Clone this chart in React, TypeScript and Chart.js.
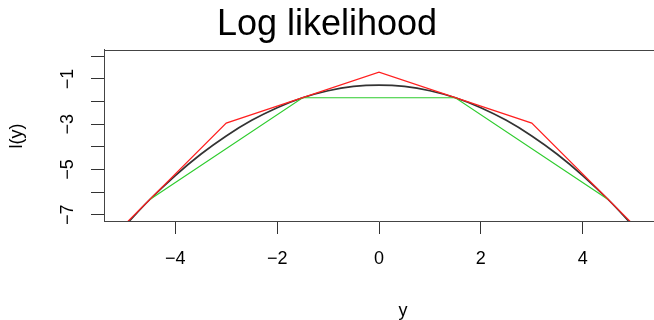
import React, { useEffect, useRef } from "react";
import { Chart, registerables } from "chart.js";

Chart.register(...registerables);

const FONT = "'Liberation Sans', Arial, Helvetica, sans-serif";

// Black curve: log-likelihood
const curveX = [-5, -4.5, -4, -3.5, -3, -2.5, -2, -1.5, -1, -0.5, 0, 0.5, 1, 1.5, 2, 2.5, 3, 3.5, 4, 4.5, 5];
const curveY = [-7.52, -6.33, -5.27, -4.33, -3.52, -2.83, -2.27, -1.83, -1.52, -1.33, -1.27, -1.33, -1.52, -1.83, -2.27, -2.83, -3.52, -4.33, -5.27, -6.33, -7.52];

// Red upper hull (tangent lines)
const upperX = [-5, -3, 0, 3, 5];
const upperY = [-7.45, -2.95, -0.7, -2.95, -7.45];

// Green lower hull (chords)
const lowerX = [-4.5, -1.5, 1.5, 4.5];
const lowerY = [-6.33, -1.83, -1.83, -6.33];

const xTickValues = [-4, -2, 0, 2, 4];
const xTickLabels = ["\u22124", "\u22122", "0", "2", "4"];
const yTickValues = [-7, -6, -5, -4, -3, -2, -1, 0];
const yTickLabels = ["\u22127", "", "\u22125", "", "\u22123", "", "\u22121", ""];

const X_MIN = -5.4;
const X_MAX = 5.4;
const Y_MIN = -7.28;
const Y_MAX = 0.28;

const toPoints = (xs: number[], ys: number[]) => xs.map((x, i) => ({ x, y: ys[i] }));

const decorPlugin = {
  id: "decor",
  afterDraw(chart: any) {
    const { ctx, chartArea } = chart;
    ctx.save();
    // top border of the box
    ctx.strokeStyle = "#444";
    ctx.lineWidth = 1;
    ctx.beginPath();
    ctx.moveTo(chartArea.left, chartArea.top + 0.5);
    ctx.lineTo(chartArea.right, chartArea.top + 0.5);
    ctx.stroke();
    // axis titles
    ctx.fillStyle = "#000";
    ctx.font = `18px ${FONT}`;
    ctx.textAlign = "center";
    ctx.textBaseline = "alphabetic";
    ctx.fillText("y", 403, 315.5);
    ctx.translate(17, 136);
    ctx.rotate(-Math.PI / 2);
    ctx.textBaseline = "middle";
    ctx.fillText("l(y)", 0, 0);
    ctx.restore();
  },
};

export default function App() {
  const canvasRef = useRef<HTMLCanvasElement | null>(null);

  useEffect(() => {
    document.body.style.margin = "0";
    const canvas = canvasRef.current;
    if (!canvas) return;
    const chart = new Chart(canvas, {
      type: "line",
      data: {
        datasets: [
          {
            data: toPoints(curveX, curveY),
            borderColor: "#333",
            borderWidth: 1.7,
            pointRadius: 0,
            tension: 0.4,
            order: 3,
          },
          {
            data: toPoints(lowerX, lowerY),
            borderColor: "#2ECC2E",
            borderWidth: 1.2,
            pointRadius: 0,
            tension: 0,
            order: 2,
          },
          {
            data: toPoints(upperX, upperY),
            borderColor: "#FF2020",
            borderWidth: 1.2,
            pointRadius: 0,
            tension: 0,
            order: 1,
          },
        ],
      },
      options: {
        animation: false,
        responsive: true,
        maintainAspectRatio: false,
        layout: { padding: 0 },
        plugins: {
          legend: { display: false },
          tooltip: { enabled: false },
          title: {
            display: true,
            text: "Log likelihood",
            color: "#000",
            font: { size: 36, family: FONT, weight: "normal", lineHeight: 1.2 },
            padding: { top: 3.4, bottom: 3.4 },
          },
        },
        scales: {
          x: {
            type: "linear",
            min: X_MIN,
            max: X_MAX,
            afterBuildTicks: (scale: any) => {
              scale.ticks = xTickValues.map((v) => ({ value: v }));
            },
            afterFit: (scale: any) => {
              scale.height = 99;
            },
            grid: {
              drawOnChartArea: false,
              drawTicks: true,
              tickLength: 13,
              tickColor: "#333",
            },
            border: { display: true, color: "#444", width: 1 },
            ticks: {
              autoSkip: false,
              maxRotation: 0,
              padding: 14,
              color: "#000",
              font: { size: 18, family: FONT },
              callback: (value: any) => {
                const i = xTickValues.indexOf(Number(value));
                return i >= 0 ? xTickLabels[i] : "";
              },
            },
          },
          y: {
            type: "linear",
            min: Y_MIN,
            max: Y_MAX,
            afterBuildTicks: (scale: any) => {
              scale.ticks = yTickValues.map((v) => ({ value: v }));
            },
            afterFit: (scale: any) => {
              scale.width = 104;
            },
            grid: {
              drawOnChartArea: false,
              drawTicks: true,
              tickLength: 13,
              tickColor: "#333",
            },
            border: { display: true, color: "#444", width: 1 },
            ticks: {
              autoSkip: false,
              minRotation: 90,
              maxRotation: 90,
              crossAlign: "center",
              padding: 13,
              color: "#000",
              font: { size: 18, family: FONT },
              callback: (value: any) => {
                const i = yTickValues.indexOf(Number(value));
                return i >= 0 ? yTickLabels[i] : "";
              },
            },
          },
        },
      },
      plugins: [decorPlugin],
    } as any);
    return () => chart.destroy();
  }, []);

  return (
    <div style={{ width: 654, height: 320, position: "relative", overflow: "hidden" }}>
      <canvas ref={canvasRef} />
    </div>
  );
}
